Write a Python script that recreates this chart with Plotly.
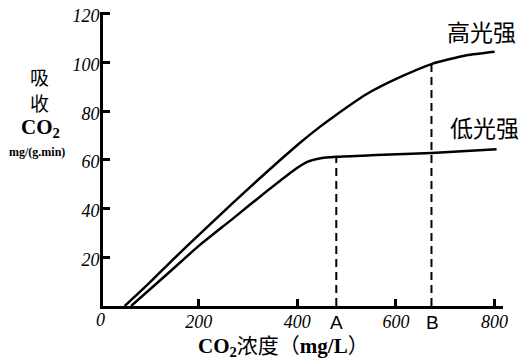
import plotly.graph_objects as go

# ---- data ----
high_x = [50, 100, 150, 202, 270, 324, 371, 405, 445, 475, 540, 608, 672, 743, 800]
high_y = [0, 9.5, 19.5, 29.5, 42.5, 52.5, 61, 67, 73.5, 78, 87, 94, 99.4, 103, 104.5]
low_x = [63, 130, 202, 270, 337, 391, 420, 445, 479, 560, 672, 804]
low_y = [0, 12, 25, 36, 47, 55.5, 59.2, 60.6, 61.3, 62.0, 62.9, 64.4]
point_A = 479
point_B = 672
A_val = 61.3
B_val = 99.4
x_ticks = [200, 400, 600, 800]
y_ticks = [20, 40, 60, 80, 100, 120]

fig = go.Figure()
for xs, ys in [(high_x, high_y), (low_x, low_y)]:
    fig.add_trace(go.Scatter(x=xs, y=ys, mode="lines",
                             line=dict(color="black", width=2.5, shape="spline", smoothing=0.6),
                             cliponaxis=False, showlegend=False))
for xv, yv in [(point_A, A_val), (point_B, B_val)]:
    fig.add_trace(go.Scatter(x=[xv, xv], y=[0, yv], mode="lines",
                             line=dict(color="black", width=2, dash="8px,5px"), showlegend=False))

tickfont = dict(family="Liberation Serif", size=18, color="black", style="italic")

# page has an 8px body margin: figure is offset by OFF px
OFF = 8
W, H = 528 - OFF, 364 - OFF
L, R, T, B = 103 - OFF, 25, 12 - OFF, 58
axis_common = dict(ticks="inside", ticklen=7, tickwidth=2.5, tickcolor="black",
                   showline=True, linewidth=3, linecolor="black", showgrid=False,
                   zeroline=False, tickfont=tickfont, fixedrange=True, automargin=False,
                   ticklabeloverflow="allow", ticklabelstandoff=-3)
fig.update_layout(
    width=W, height=H,
    margin=dict(l=L, r=R, t=T, b=B, autoexpand=False),
    paper_bgcolor="white", plot_bgcolor="white",
    xaxis=dict(range=[6, 817], tickvals=x_ticks, **axis_common),
    yaxis=dict(range=[0, 120.8], tickvals=y_ticks, ticklabelshift=2, **axis_common),
)

ann = []
def addp(text, x, y, size, family, **kw):
    # x, y are page pixel positions in the reference
    x -= OFF
    y -= OFF
    pw, ph = W - L - R, H - T - B
    ann.append(dict(text=text, x=(x - L) / pw, y=(H - B - y) / ph, xref="paper", yref="paper",
                    showarrow=False, xanchor="center", yanchor="middle",
                    font=dict(size=size, family=family, color="black", **kw)))

addp("高光强", 481, 31, 23, "Noto Sans CJK SC")
addp("低光强", 484, 127, 23, "Noto Sans CJK SC")
addp("吸", 39, 76, 19, "Noto Sans CJK SC")
addp("收", 39, 102, 19, "Noto Sans CJK SC")
addp("<b>CO<sub>2</sub></b>", 40, 128, 21, "Liberation Serif")
addp("<b>mg/(g.min)</b>", 37, 152, 12, "Liberation Serif")
addp("<b>CO<sub>2</sub></b>浓度（<b>mg/L</b>）", 283, 347, 21, "Liberation Serif, Noto Sans CJK SC")
addp("0", 100, 320, 18, "Liberation Serif", style="italic")
addp("A", 336, 322, 19, "Liberation Sans")
addp("B", 432, 322, 19, "Liberation Sans")

fig.update_layout(annotations=ann)
fig.write_html("out.html")
